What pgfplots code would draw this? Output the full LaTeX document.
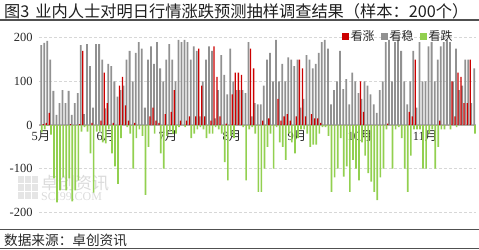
\documentclass[border=0pt]{standalone}
\usepackage{fontspec}
\setmainfont{Liberation Serif}
\newfontfamily\cjk{Noto Sans CJK SC}
\usepackage{pgfplots}
\pgfplotsset{compat=1.18}
\usepackage{pgfplotstable}

\definecolor{upred}{RGB}{204,0,0}
\definecolor{flatgray}{RGB}{145,145,145}
\definecolor{downgreen}{RGB}{146,208,80}
\definecolor{gridgray}{RGB}{215,215,215}
\definecolor{zerogray}{RGB}{185,185,185}
\definecolor{rulegray}{RGB}{80,80,80}

\pgfplotsset{sq legend/.style={legend image code/.code={\fill[##1] (0bp,-3.5bp) rectangle (7bp,3.5bp);}}}

% day  grey(看稳)  red(看涨)  down(看跌, negative)
\pgfplotstableread{
day grey red down
0 183 0 -17
1 188 2 -10
2 193 5 -2
3 150 28 -22
4 78 0 -122
5 23 0 -177
6 50 0 -150
7 80 0 -120
8 50 0 -150
9 78 0 -122
10 23 2 -175
11 50 0 -150
12 73 0 -127
13 183 2 -15
14 25 170 -5
15 185 0 -15
16 135 0 -65
17 40 5 -155
18 185 0 -15
19 185 0 -15
20 150 10 -40
21 38 120 -42
22 140 50 -10
23 135 0 -65
24 100 5 -95
25 65 0 -135
26 80 90 -30
27 90 110 0
28 150 45 -5
29 170 10 -20
30 100 0 -100
31 165 5 -30
32 190 0 -10
33 175 0 -25
34 40 0 -160
35 150 0 -50
36 180 20 0
37 140 40 -20
38 190 10 0
39 130 5 -65
40 100 0 -100
41 150 25 -25
42 185 0 -15
43 150 30 -20
44 100 80 -20
45 195 0 -5
46 190 10 0
47 195 0 -5
48 190 10 0
49 150 20 -30
50 180 0 -20
51 170 20 -10
52 20 175 -5
53 100 90 -10
54 150 20 -30
55 180 0 -20
56 170 10 -20
57 15 180 -5
58 80 110 -10
59 160 20 -20
60 115 0 -85
61 70 3 -127
62 175 0 -25
63 100 70 -30
64 80 120 0
65 80 120 0
66 80 115 -5
67 73 0 -127
68 190 0 -10
69 20 175 -5
70 50 130 -20
71 47 0 -153
72 47 0 -153
73 90 10 -100
74 150 0 -50
75 165 15 -20
76 100 0 -100
77 195 0 -5
78 100 60 -40
79 140 10 -50
80 100 20 -80
81 155 25 -20
82 150 10 -40
83 135 0 -65
84 150 20 -30
85 40 150 -10
86 60 130 -10
87 160 20 -20
88 150 0 -50
89 130 25 -45
90 140 15 -45
91 165 15 -20
92 190 5 -5
93 195 0 -5
94 175 0 -25
95 47 0 -153
96 80 0 -120
97 100 0 -100
98 170 0 -30
99 82 0 -118
100 105 0 -95
101 47 0 -153
102 120 0 -80
103 100 0 -100
104 73 0 -127
105 60 100 -40
106 100 30 -70
107 90 0 -110
108 70 0 -130
109 47 0 -153
110 28 0 -172
111 80 0 -120
112 100 0 -100
113 190 0 -10
114 195 3 0
115 100 0 -100
116 190 0 -10
117 195 0 -5
118 170 0 -30
119 100 0 -100
120 47 0 -153
121 100 30 -70
122 170 20 -10
123 40 150 -10
124 190 0 -10
125 100 0 -100
126 100 0 -100
127 180 0 -20
128 190 0 -10
129 100 0 -100
130 150 0 -50
131 180 10 -10
132 190 0 -10
133 195 0 0
134 190 0 -10
135 100 100 0
136 175 20 -5
137 80 120 0
138 90 110 0
139 150 50 0
140 150 50 0
141 50 150 0
142 130 0 -20
}\survey

\begin{document}
\begin{tikzpicture}
\path[use as bounding box] (0bp,0bp) rectangle (479bp,250bp);

% title and rules
\node[anchor=west, inner sep=0pt, text=black!88, font=\cjk\fontsize{16.3}{18}\selectfont] at (4bp,239bp) {图3\hspace{6bp}业内人士对明日行情涨跌预测抽样调查结果（样本：200个）};
\draw[rulegray, line width=1.5bp] (0bp,229.8bp) -- (479bp,229.8bp);
\draw[rulegray, line width=1.2bp] (0bp,20.5bp) -- (479bp,20.5bp);
\node[anchor=west, inner sep=0pt, text=black!85, font=\cjk\fontsize{13.7}{15}\selectfont] at (4bp,10bp) {数据来源：卓创资讯};
\draw[rulegray, line width=1.2bp] (0bp,1.5bp) -- (479bp,1.5bp);

% watermark
\foreach \i in {0,1,2} {
  \foreach \j in {0,1,2} {
    \fill[black!10] ({(18+\i*7)*1bp},{(51+\j*8)*1bp}) rectangle ({(23.5+\i*7)*1bp},{(57.5+\j*8)*1bp});
  }
}
\node[anchor=west, inner sep=0pt, text=black!14, font=\cjk\fontsize{17}{18}\selectfont] at (41bp,67bp) {卓创资讯};
\node[anchor=west, inner sep=0pt, text=black!14, font=\fontsize{12}{13}\selectfont] at (41bp,53bp) {SCI99.COM};

\begin{axis}[
    at={(39bp,37.7bp)}, anchor=south west,
    scale only axis,
    width=437bp, height=174.6bp,
    xmin=-0.66, xmax=142.6,
    ymin=-200, ymax=200,
    axis line style={draw=none},
    major tick length=0pt,
    ytick={-200,-100,100,200},
    extra y ticks={0},
    extra y tick style={major grid style={solid, zerogray, line width=1.6bp}},
    ymajorgrids,
    grid style={gridgray, dash pattern=on 3bp off 2bp, line width=0.8bp},
    xtick={0,21.3,41.6,62.6,83.9,104.6,125.9},
    xticklabels={5{\cjk 月},6{\cjk 月},7{\cjk 月},8{\cjk 月},9{\cjk 月},10{\cjk 月},11{\cjk 月}},
    xticklabel style={yshift=85bp},
    yticklabel style={xshift=-3bp},
    tick label style={font=\fontsize{12.5}{13}\selectfont, text=black!85},
    /pgf/number format/assume math mode=true,
    legend style={at={(0.958,1.008)}, anchor=east, draw=none, fill=none,
        font=\cjk\fontsize{12}{13}\selectfont, text=black!85,
        /tikz/every even column/.append style={column sep=4bp}},
    legend columns=3,
    legend cell align=left,
    clip=false,
]
\addplot[ybar, bar width=0.58, bar shift=0.05, fill=flatgray, draw=none, forget plot]
    table[x=day, y=grey]{\survey};
\addplot[ybar, bar width=0.42, bar shift=-0.3, fill=upred, draw=none, sq legend]
    table[x=day, y=red]{\survey};
\addlegendentry{看涨}
\addlegendimage{ybar, fill=flatgray, draw=none, sq legend}
\addlegendentry{看稳}
\addplot[ybar, bar width=0.55, bar shift=0.25, fill=downgreen, draw=none, sq legend]
    table[x=day, y=down]{\survey};
\addlegendentry{看跌}
\end{axis}
\end{tikzpicture}
\end{document}
